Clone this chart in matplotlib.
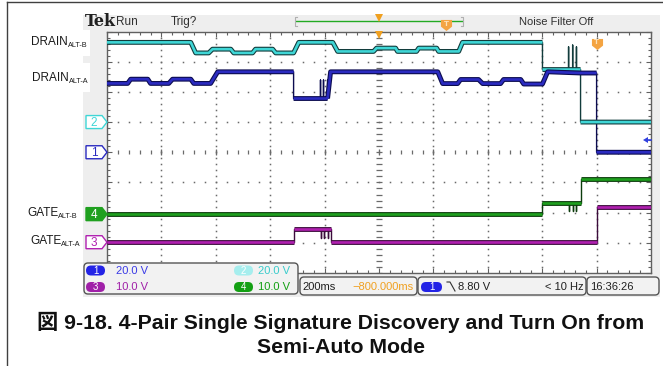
import numpy as np
import matplotlib.pyplot as plt
from matplotlib.patches import Rectangle, Polygon, FancyBboxPatch
from matplotlib import patheffects as pe
from matplotlib.transforms import blended_transform_factory

# tiempo en ms (200 ms/div, disparo en t=0, posicion -800 ms)
t_ch1 = [-1800, -1724, -1713, -1650, -1640, -1573, -1559, -1492, -1481, -1419, -1393,
         -1114, -1114, -1015, -1015, -1015, -1004, -1004, -1004, -989, -989, -989, -978,
         -584, -566, -511, -500, -434, -419, -353, -342, -279, -268, -199, -180, -59, 0, 0, 200]
v_ch1 = [45.6, 45.6, 48.4, 48.4, 45.6, 45.6, 48.4, 48.4, 45.6, 45.6, 53.3,
         53.3, 35.6, 35.6, 47.8, 35.6, 35.6, 47.8, 35.6, 35.6, 47.8, 35.6, 53.3,
         53.3, 45.5, 45.5, 48.2, 48.2, 45.5, 45.5, 48.2, 48.2, 45.2, 45.2, 53.3, 52.5, 52.5, 0, 0]

t_ch2 = [-1800, -1492, -1474, -1426, -1412, -1345, -1334, -1265, -1254, -1191, -1180,
         -1114, -1095, -970, -952, -820, -809, -739, -732, -662, -654, -588, -581,
         -507, -493, -199, -199, -103, -103, -103, -88, -88, -88, -74, -74, -74, -59, -59, 200]
v_ch2 = [52.8, 52.8, 45.8, 45.8, 48.3, 48.3, 45.8, 45.8, 48.3, 48.3, 45.8,
         45.8, 52.8, 52.8, 46.8, 46.8, 49.0, 49.0, 46.8, 46.8, 49.0, 49.0, 46.8,
         46.8, 52.8, 52.8, 34.8, 34.8, 49.8, 34.8, 34.8, 51.0, 34.8, 34.8, 49.8, 34.8, 34.8, 0, 0]

t_ch3 = [-1800, -1114, -1114, -1015, -1015, -1015, -1004, -1004, -1004, -989, -989, -989,
         -978, -978, 0, 0, 200]
v_ch3 = [0, 0, 4.3, 4.3, 1.4, 4.3, 4.3, 1.4, 4.3, 4.3, 1.4, 4.3,
         4.3, 0, 0, 11.8, 11.8]

t_ch4 = [-1800, -199, -199, -103, -103, -103, -88, -88, -88, -74, -74, -74, -59, -59, 200]
v_ch4 = [0, 0, 3.8, 3.8, 1.0, 3.8, 3.8, 1.0, 3.8, 3.8, 1.0, 3.8, 3.8, 11.5, 11.5]

escala = {1: 20, 2: 20, 3: 10, 4: 10}        # V/div
offset = {1: 0.0, 2: 1.0, 3: -2.98, 4: -2.05}  # div
color = {1: "#2b2bc0", 2: "#3fd6d6", 3: "#b020b0", 4: "#1fa01f"}
borde = {1: "#0c0c50", 2: "#123c3c", 3: "#3c0c3c", 4: "#0c3c0c"}

W, H = 663, 366
fig = plt.figure(figsize=(W / 100, H / 100), dpi=100)

# capa de fondo en pixeles
bg = fig.add_axes([0, 0, 1, 1], zorder=0)
bg.set_xlim(0, W)
bg.set_ylim(H, 0)
bg.axis("off")
bg.plot([7, W], [2, 2], color="#404040", lw=1)
bg.plot([7, 7], [2, H], color="#404040", lw=1)
bg.add_patch(Rectangle((83, 15), 577, 282, facecolor="#eeeeee", edgecolor="none"))
bg.add_patch(Rectangle((60, 30), 30, 26, facecolor="white", edgecolor="none"))
bg.add_patch(Rectangle((60, 63), 30, 29, facecolor="white", edgecolor="none"))

# reticula del osciloscopio
gx0, gx1, gy0, gy1 = 107, 651, 31.5, 273
ax = fig.add_axes([gx0 / W, (H - gy1) / H, (gx1 - gx0) / W, (gy1 - gy0) / H], zorder=1)
ax.set_xlim(-1800, 200)
ax.set_ylim(-4, 4)
ax.set_facecolor("white")
for s in ax.spines.values():
    s.set_color("#606060")
    s.set_linewidth(1)
ax.set_xticks(np.arange(-1800, 201, 200))
ax.set_xticks(np.arange(-1800, 201, 40), minor=True)
ax.set_yticks(np.arange(-4, 5, 1))
ax.set_yticks(np.arange(-4, 4.01, 0.2), minor=True)
ax.tick_params(which="both", direction="in", top=True, right=True,
               labelbottom=False, labelleft=False, color="#606060", width=0.8)
ax.tick_params(which="major", length=3.5)
ax.tick_params(which="minor", length=2.2)

gris = "#6a6a6a"
xs_min = np.arange(-1800, 201, 40)
ys_min = np.arange(-4, 4.01, 0.2)
for xm in np.arange(-1600, 200, 200):
    if xm != -800:
        ax.plot(np.full_like(ys_min, xm), ys_min, ls="none", marker="s", ms=1.1, mew=0, color=gris)
for ym in range(-3, 4):
    if ym != 0:
        ax.plot(xs_min, np.full_like(xs_min, ym, dtype=float), ls="none", marker="s", ms=1.1, mew=0, color=gris)
# ejes centrales con marcas
ax.plot(np.full_like(ys_min, -800), ys_min, ls="none", marker="_", ms=4, mew=0.9, color=gris)
ax.plot(xs_min, np.zeros_like(xs_min, dtype=float), ls="none", marker="|", ms=2.5, mew=0.9, color=gris)
ax.plot(np.arange(-1800, 201, 200), np.zeros(11), ls="none", marker="|", ms=4.5, mew=0.9, color=gris)


def trazo(t, v, ch):
    t = np.asarray(t, float)
    y = offset[ch] + np.asarray(v, float) / escala[ch]
    ax.plot(t, y, color=borde[ch], lw=1.0, zorder=3)
    tt, yy = [], []
    for i in range(len(t)):
        if i > 0 and t[i] == t[i - 1]:
            tt.append(np.nan)
            yy.append(np.nan)
        tt.append(t[i])
        yy.append(y[i])
    ax.plot(tt, yy, color=color[ch], lw=1.9, zorder=4, solid_capstyle="butt",
            path_effects=[pe.Stroke(linewidth=3.5, foreground=borde[ch]), pe.Normal()])


trazo(t_ch4, v_ch4, 4)
trazo(t_ch3, v_ch3, 3)
trazo(t_ch2, v_ch2, 2)
trazo(t_ch1, v_ch1, 1)

# marcadores de disparo sobre la reticula
tr = blended_transform_factory(ax.transData, ax.transAxes)
ax.plot([-800], [0.985], transform=tr, marker="v", ms=6, color="#f0a020", mew=0, clip_on=False, zorder=5)
escudo = [(-1, 1), (1, 1), (1, -0.2), (0, -1), (-1, -0.2)]
ax.plot([0], [0.95], transform=tr, marker=escudo, ms=8, color="#f4a442", mew=0, clip_on=False, zorder=5)
ax.text(0, 0.955, "T", transform=tr, ha="center", va="center", fontsize=5, color="#fde2b8",
        fontweight="bold", zorder=6)

# capa superior en pixeles
fg = fig.add_axes([0, 0, 1, 1], zorder=2)
fg.set_xlim(0, W)
fg.set_ylim(H, 0)
fg.axis("off")

# cabecera
fg.text(85, 21.5, "Tek", fontsize=11.5, fontweight="bold", family="DejaVu Serif", va="center", color="#202020")
fg.text(116, 22, "Run", fontsize=8.5, family="Liberation Sans", va="center", color="#303030")
fg.text(171, 22, "Trig?", fontsize=8.5, family="Liberation Sans", va="center", color="#303030")
fg.text(556, 22, "Noise Filter Off", fontsize=8, family="Liberation Sans", va="center", ha="center", color="#303030")
fg.plot([296, 462], [21, 21], color="#22aa22", lw=1)
fg.plot([297, 295, 295, 297], [17, 17, 26, 26], color="#b0b0b0", lw=0.8)
fg.plot([461, 463, 463, 461], [17, 17, 26, 26], color="#b0b0b0", lw=0.8)
fg.plot([379], [18], marker="v", ms=6, color="#f0a020", mew=0)
fg.plot([446], [25], marker=escudo, ms=8, color="#f4a442", mew=0)
fg.text(446, 24.5, "T", ha="center", va="center", fontsize=5, color="#fde2b8", fontweight="bold")

# etiquetas de canal
def etiqueta(x, y, base, sub):
    t1 = fg.text(x, y, base, fontsize=8.5, family="Liberation Sans", va="center", color="#1a1a1a")
    fig.canvas.draw()
    bb = t1.get_window_extent()
    x2 = x + bb.width
    fg.text(x2, y + 3.5, sub, fontsize=5.2, family="Liberation Sans", va="center", color="#1a1a1a")


etiqueta(31, 42, "DRAIN", "ALT-B")
etiqueta(32, 78, "DRAIN", "ALT-A")
etiqueta(27, 213, "GATE", "ALT-B")
etiqueta(30, 241.5, "GATE", "ALT-A")


def ypix(ch):
    return gy1 - (offset[ch] + 4) / 8 * (gy1 - gy0)


def flecha(ch, relleno):
    yc = ypix(ch)
    pts = [(86, yc - 6.5), (102, yc - 6.5), (107, yc), (102, yc + 6.5), (86, yc + 6.5)]
    if relleno:
        fg.add_patch(Polygon(pts, closed=True, facecolor=color[ch], edgecolor=color[ch], lw=1))
        tc = "white"
    else:
        fg.add_patch(Polygon(pts, closed=True, facecolor="white", edgecolor=color[ch], lw=1))
        tc = color[ch]
    fg.text(94, yc + 0.5, str(ch), ha="center", va="center", fontsize=8.5, color=tc,
            family="Liberation Sans")


flecha(2, False)
flecha(1, False)
flecha(4, True)
flecha(3, False)
fg.add_patch(Polygon([(643, 140), (648, 137), (648, 143)], closed=True, facecolor="#3040e0", edgecolor="none"))
fg.plot([646, 651], [140, 140], color="#3040e0", lw=1.2)

# barra de estado
narrow = ["Liberation Sans Narrow", "Liberation Sans"]


def caja(x, y, w, h):
    fg.add_patch(FancyBboxPatch((x, y), w, h, boxstyle="round,pad=0,rounding_size=4",
                                facecolor="#f2f2f2", edgecolor="#555555", lw=1))


def pastilla(x, y, w, ch, fondo):
    fg.add_patch(FancyBboxPatch((x, y - 5), w, 10, boxstyle="round,pad=0,rounding_size=5",
                                facecolor=fondo, edgecolor="none"))
    fg.text(x + w / 2, y + 0.3, str(ch), ha="center", va="center", fontsize=7, color="white", family=narrow)


caja(84, 263, 214, 31)
pastilla(86, 270.5, 19, 1, "#2323e6")
pastilla(86, 287, 19, 3, "#a020a8")
pastilla(234, 270.5, 19, 2, "#a6eeee")
pastilla(234, 287, 19, 4, "#13a013")
fg.text(116, 270.5, "20.0 V", fontsize=8, va="center", color="#3a3ae6", family=narrow)
fg.text(116, 287, "10.0 V", fontsize=8, va="center", color="#a020a8", family=narrow)
fg.text(258, 270.5, "20.0 V", fontsize=8, va="center", color="#39cccc", family=narrow)
fg.text(258, 287, "10.0 V", fontsize=8, va="center", color="#13a013", family=narrow)

caja(300, 277, 117, 18)
fg.text(302, 287, "200ms", fontsize=8, va="center", color="#202020", family=narrow)
fg.text(414, 287, "\u2212800.000ms", fontsize=8, va="center", ha="right", color="#f0a020", family=narrow)

caja(418, 277, 168, 18)
pastilla(421, 287, 21, 1, "#2323e6")
fg.plot([447, 450, 455], [282, 282, 291], color="#303030", lw=0.8)
fg.text(458, 287, "8.80 V", fontsize=8, va="center", color="#202020", family=narrow)
fg.text(584, 287, "< 10 Hz", fontsize=8, va="center", ha="right", color="#202020", family=narrow)

caja(587, 277, 72, 18)
fg.text(590, 287, "16:36:26", fontsize=8, va="center", color="#202020", family=narrow)

# pie de figura
cap = ["Liberation Sans", "Noto Sans CJK JP"]
fg.text(341, 329, "図 9-18. 4-Pair Single Signature Discovery and Turn On from",
        fontsize=15.3, fontweight="bold", family=cap, ha="center", va="baseline", color="#111111")
fg.text(341, 353, "Semi-Auto Mode", fontsize=15.3, fontweight="bold", family=cap,
        ha="center", va="baseline", color="#111111")

fig.savefig("out.png", dpi=100)
plt.close(fig)
